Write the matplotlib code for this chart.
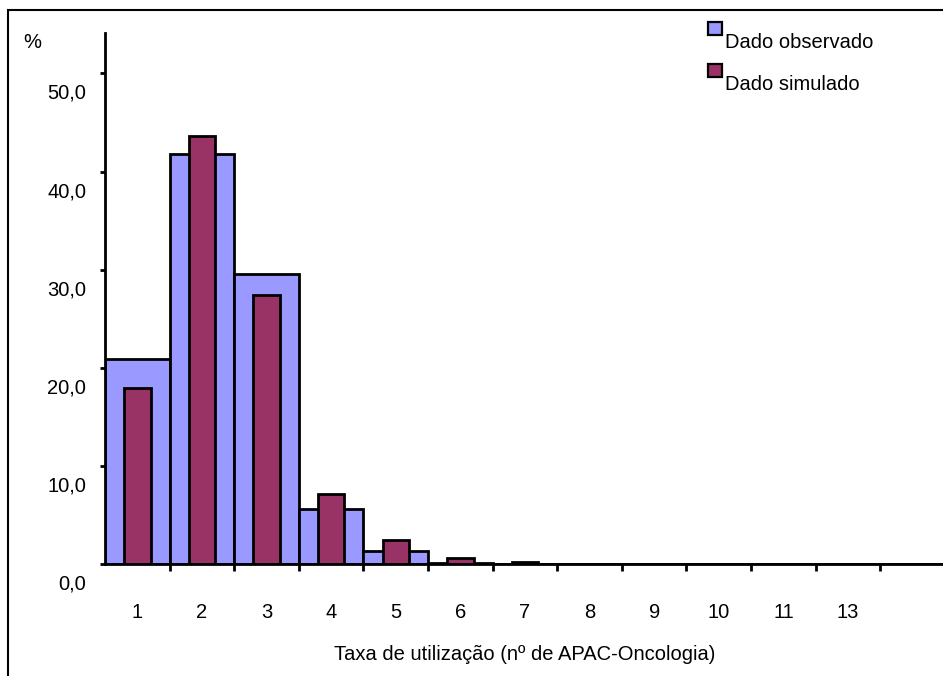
import matplotlib.pyplot as plt
import matplotlib.transforms as mtransforms
from matplotlib.patches import Rectangle

plt.rcParams['font.family'] = ['Liberation Sans', 'DejaVu Sans']

# dados
categorias = ['1', '2', '3', '4', '5', '6', '7', '8', '9', '10', '11', '13', '']
observado = [20.9, 41.8, 29.6, 5.6, 1.4, 0.15, 0.08, 0.03, 0, 0, 0, 0, 0]
simulado = [18.0, 43.6, 27.4, 7.2, 2.5, 0.7, 0.2, 0.02, 0, 0, 0, 0, 0]
y_ticks = [0, 10, 20, 30, 40, 50]
y_labels = ['0,0', '10,0', '20,0', '30,0', '40,0', '50,0']

cor_obs = '#9999FF'
cor_sim = '#993366'
fs = 14.5

fig = plt.figure(figsize=(9.43, 6.76), dpi=100)
ax = fig.add_axes([0.1114, 0.165, 0.8906, 0.786])

x = list(range(len(categorias)))
ax.bar(x, observado, width=1.0, color=cor_obs, edgecolor='black', linewidth=2.0)
ax.bar(x, simulado, width=0.41, color=cor_sim, edgecolor='black', linewidth=2.0)

ax.set_xlim(-0.5, len(categorias) - 0.5)
ax.set_ylim(0, 54.1)

ax.spines['top'].set_visible(False)
ax.spines['right'].set_visible(False)
ax.spines['left'].set_linewidth(2.0)
ax.spines['bottom'].set_linewidth(2.0)

# eixo y: rotulos deslocados para baixo como no Excel
ax.set_yticks(y_ticks)
ax.set_yticklabels(y_labels, fontsize=fs)
ax.tick_params(axis='y', direction='out', length=3.5, width=2.0, pad=10)
desloc = mtransforms.ScaledTranslation(0, -18 / 100, fig.dpi_scale_trans)
for lab in ax.get_yticklabels():
    lab.set_transform(lab.get_transform() + desloc)

# eixo x: marcas nas divisas, rotulos no centro
ax.set_xticks(x)
ax.set_xticklabels(categorias, fontsize=fs)
ax.tick_params(axis='x', which='major', length=0, pad=28)
ax.set_xticks([i - 0.5 for i in range(1, len(categorias) + 1)], minor=True)
ax.tick_params(axis='x', which='minor', direction='out', length=5, width=2.0)

ax.set_xlabel('Taxa de utilização (nº de APAC-Oncologia)', fontsize=fs, labelpad=16)
fig.text(32 / 943, 1 - 43 / 676, '%', fontsize=fs, ha='center', va='center')

# legenda manual
itens = [('Dado observado', cor_obs), ('Dado simulado', cor_sim)]
for i, (nome, cor) in enumerate(itens):
    y0 = 22 + i * 42
    fig.add_artist(Rectangle((708 / 943, 1 - (y0 + 13) / 676), 14 / 943, 13 / 676,
                             transform=fig.transFigure, facecolor=cor,
                             edgecolor='black', linewidth=1.6))
    fig.text(725 / 943, 1 - (y0 + 21) / 676, nome, fontsize=fs, ha='left', va='center')

# moldura
fig.add_artist(Rectangle((8 / 943, -0.02), 1.05, 1 - 10 / 676 + 0.02,
                         transform=fig.transFigure, fill=False,
                         edgecolor='black', linewidth=1.5))

fig.savefig('out.png', dpi=100)
